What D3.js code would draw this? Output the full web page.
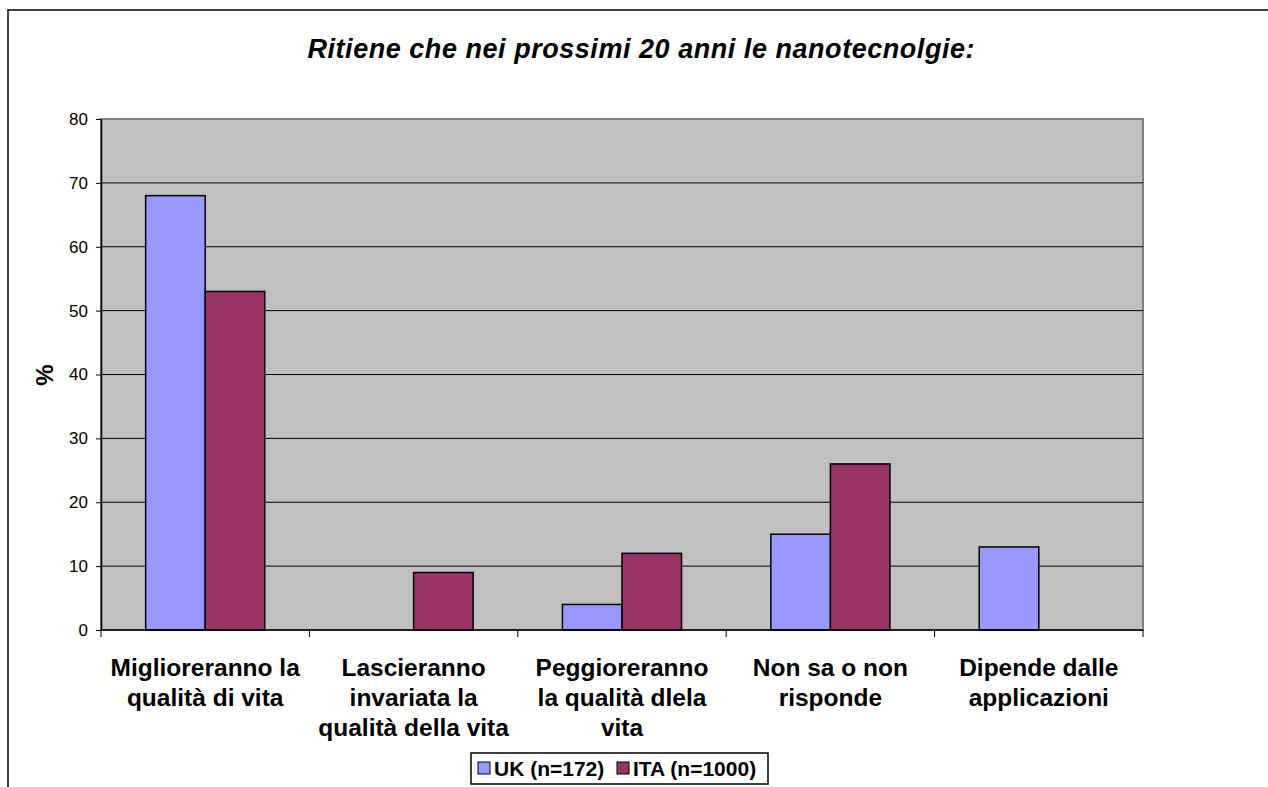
<!DOCTYPE html>
<html>
<head>
<meta charset="utf-8">
<script src="https://cdn.jsdelivr.net/npm/d3@7"></script>
<style>
  body { margin: 0; background: #fff; }
  text { font-family: "Liberation Sans", Arial, sans-serif; }
</style>
</head>
<body>
<svg width="1268" height="787"></svg>
<script>
// data
var categories = [
  "Miglioreranno la\nqualità di vita",
  "Lascieranno\ninvariata la\nqualità della vita",
  "Peggioreranno\nla qualità dlela\nvita",
  "Non sa o non\nrisponde",
  "Dipende dalle\napplicazioni"
];
var seriesNames = ["UK (n=172)", "ITA (n=1000)"];
var ukValues = [68, 0, 4, 15, 13];
var itaValues = [53, 9, 12, 26, 0];
var yTicks = [0, 10, 20, 30, 40, 50, 60, 70, 80];
var colors = ["#9999FF", "#993366"];

function main(){
    var svg = d3.select("svg");

    // outer chart frame (runs off the page on right and bottom)
    svg.append("rect").attr("x", 8).attr("y", 10).attr("width", 1300).attr("height", 820)
        .attr("fill", "#fff").attr("stroke", "#000").attr("stroke-width", 1.5);

    var left = 101, right = 1143, top = 119, bottom = 630;

    var x0 = d3.scaleBand().domain(categories).range([left, right]).padding(0);
    var x1 = d3.scaleBand().domain(seriesNames).range([0, x0.bandwidth()]).paddingInner(0).paddingOuter(0.75);
    var y = d3.scaleLinear().domain([0, 80]).range([bottom, top]);

    // plot area
    svg.append("rect").attr("x", left).attr("y", top).attr("width", right - left).attr("height", bottom - top)
        .attr("fill", "#C0C0C0").attr("stroke", "#808080").attr("stroke-width", 2);

    // gridlines
    svg.append("g").selectAll("line").data(yTicks.filter(function(d){ return d > 0 && d < 80; }))
        .enter().append("line")
        .attr("x1", left).attr("x2", right)
        .attr("y1", function(d){ return y(d); }).attr("y2", function(d){ return y(d); })
        .attr("stroke", "#000").attr("stroke-width", 1);

    // bars
    var rows = categories.map(function(c, i){ return {cat: c, vals: [ukValues[i], itaValues[i]]}; });
    var grp = svg.append("g").selectAll("g").data(rows).enter().append("g")
        .attr("transform", function(d){ return "translate(" + x0(d.cat) + ",0)"; });
    grp.selectAll("rect").data(function(d){ return d.vals.map(function(v, j){ return {s: seriesNames[j], v: v, j: j}; }).filter(function(e){ return e.v > 0; }); })
        .enter().append("rect")
        .attr("x", function(d){ return x1(d.s); })
        .attr("y", function(d){ return y(d.v); })
        .attr("width", x1.bandwidth())
        .attr("height", function(d){ return y(0) - y(d.v); })
        .attr("fill", function(d){ return colors[d.j]; })
        .attr("stroke", "#000").attr("stroke-width", 1.5);

    // y axis
    var yAxis = svg.append("g").attr("transform", "translate(" + left + ",0)")
        .call(d3.axisLeft(y).tickValues(yTicks).tickSize(5).tickSizeOuter(0).tickPadding(8));
    yAxis.select(".domain").attr("stroke", "#000").attr("stroke-width", 1.5);
    yAxis.selectAll("text").attr("font-size", "17px").attr("fill", "#000")
        .style("font-family", "'Liberation Sans', Arial, sans-serif");

    // x axis line and ticks at category boundaries
    svg.append("line").attr("x1", left).attr("x2", right).attr("y1", bottom).attr("y2", bottom)
        .attr("stroke", "#000").attr("stroke-width", 1.5);
    var bounds = categories.map(function(c){ return x0(c); }).concat([right]);
    svg.append("g").selectAll("line").data(bounds).enter().append("line")
        .attr("x1", function(d){ return d; }).attr("x2", function(d){ return d; })
        .attr("y1", bottom).attr("y2", bottom + 7)
        .attr("stroke", "#000").attr("stroke-width", 1);

    // category labels
    var labels = svg.append("g").selectAll("text").data(categories).enter().append("text")
        .attr("x", function(d){ return x0(d) + x0.bandwidth() / 2; })
        .attr("y", 676)
        .attr("text-anchor", "middle")
        .attr("font-size", "24.5px").attr("font-weight", "bold");
    labels.selectAll("tspan").data(function(d){ return d.split("\n"); }).enter().append("tspan")
        .attr("x", function(){ var p = this.parentNode; return p.getAttribute("x"); })
        .attr("dy", function(d, i){ return i === 0 ? 0 : 30; })
        .text(function(d){ return d; });

    // title
    svg.append("text").attr("x", 641).attr("y", 58).attr("text-anchor", "middle")
        .attr("font-size", "27px").attr("font-weight", "bold").attr("font-style", "italic")
        .attr("textLength", 667).attr("lengthAdjust", "spacing")
        .text("Ritiene che nei prossimi 20 anni le nanotecnolgie:");

    // y label
    svg.append("text").attr("transform", "translate(53,375) rotate(-90)")
        .attr("text-anchor", "middle").attr("font-size", "24px").attr("font-weight", "bold")
        .text("%");

    // legend
    var lg = svg.append("g");
    lg.append("rect").attr("x", 471).attr("y", 753).attr("width", 297).attr("height", 31)
        .attr("fill", "#fff").attr("stroke", "#000").attr("stroke-width", 1.5);
    var legendX = [478, 617];
    seriesNames.forEach(function(s, i){
        lg.append("rect").attr("x", legendX[i]).attr("y", 762).attr("width", 12).attr("height", 12)
            .attr("fill", colors[i]).attr("stroke", "#000").attr("stroke-width", 1);
        lg.append("text").attr("x", legendX[i] + 16).attr("y", 776)
            .attr("font-size", "21px").attr("font-weight", "bold").text(s);
    });
}
main();
</script>
</body>
</html>
